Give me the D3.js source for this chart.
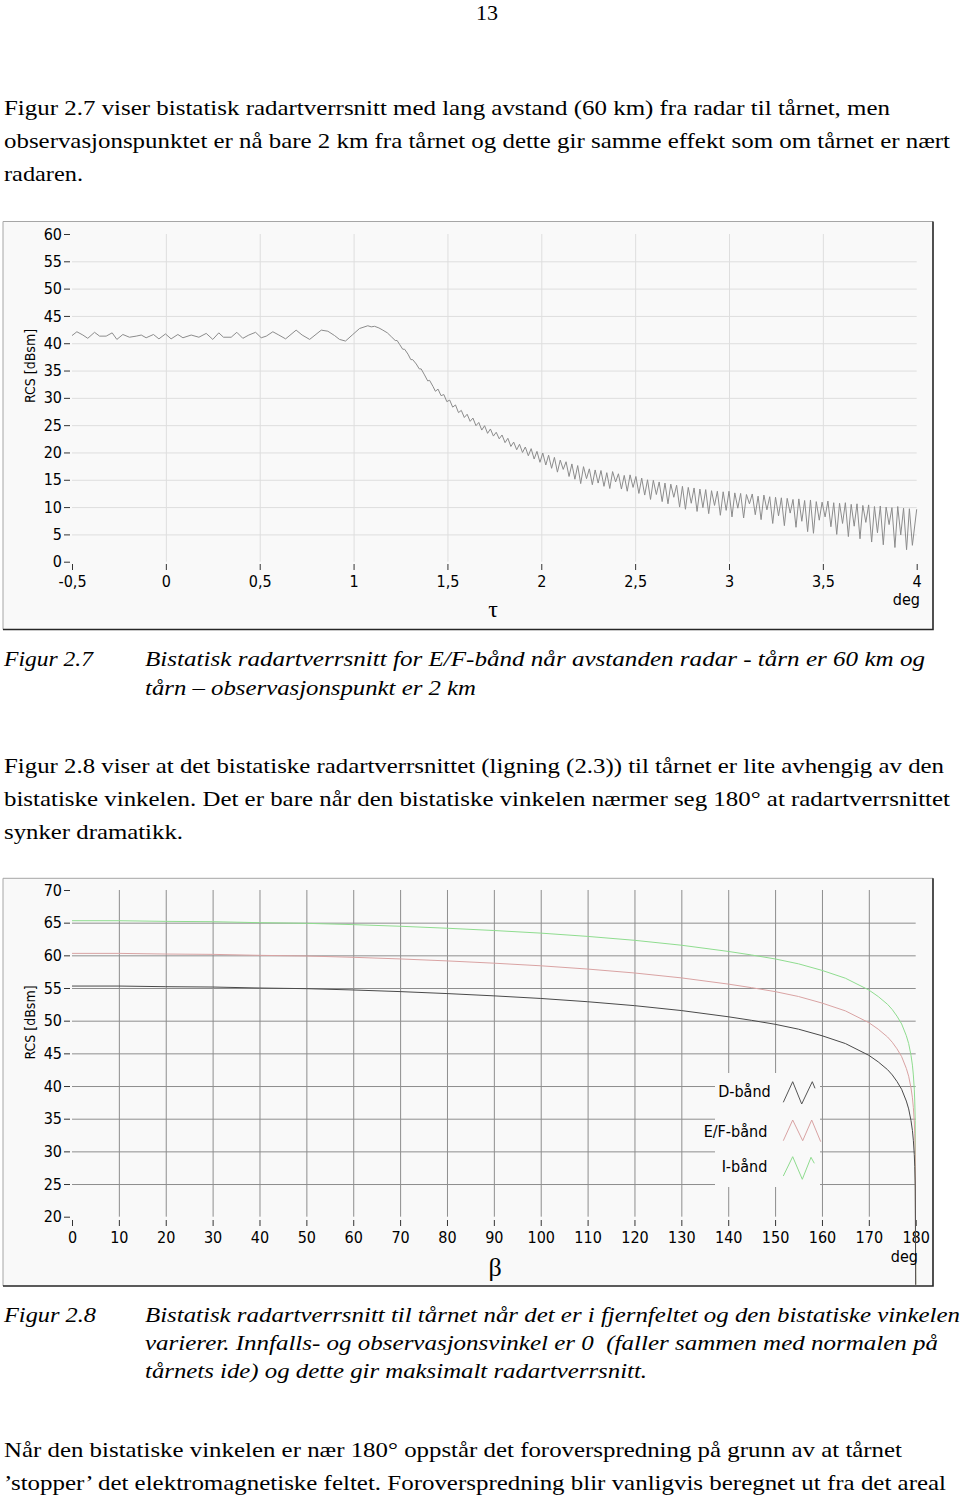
<!DOCTYPE html>
<html><head><meta charset="utf-8">
<script src="https://cdn.jsdelivr.net/npm/d3@7"></script>
<style>
body{margin:0;background:#fff} svg{display:block}
.serif{font-family:"Liberation Serif","Times New Roman",Times,serif}
.sans{font-family:"DejaVu Sans Condensed","DejaVu Sans",sans-serif;font-stretch:condensed}
</style>
</head><body>
<svg id="page" width="960" height="1498"></svg>
<script>
// ---------------- DATA ----------------
// Figure 2.7 : RCS [dBsm] vs tau [deg]
const tauTicks = [-0.5, 0, 0.5, 1, 1.5, 2, 2.5, 3, 3.5, 4];
const tauTickLabels = ["-0,5", "0", "0,5", "1", "1,5", "2", "2,5", "3", "3,5", "4"];
const rcs27Ticks = [0, 5, 10, 15, 20, 25, 30, 35, 40, 45, 50, 55, 60];
const fig27Curve = [
[-0.5,41.4],[-0.474,42.1],[-0.442,41.5],[-0.416,40.9],[-0.38,42.0],[-0.353,41.3],[-0.318,41.3],[-0.286,41.9],[-0.261,40.7],[-0.229,41.6],
[-0.194,41.1],[-0.158,41.3],[-0.131,41.5],[-0.105,41.0],[-0.066,41.6],[-0.037,40.8],[-0.002,41.7],[0.028,40.8],[0.064,41.6],[0.091,41.0],
[0.135,41.5],[0.176,41.1],[0.215,41.8],[0.25,40.7],[0.282,41.9],[0.307,41.1],[0.348,41.1],[0.378,42.0],[0.41,40.9],[0.442,41.5],
[0.478,42.0],[0.508,41.0],[0.535,41.3],[0.57,42.1],[0.602,41.5],[0.638,40.8],[0.694,42.4],[0.726,41.5],[0.766,40.7],[0.828,42.4],
[0.863,42.2],[0.899,41.4],[0.925,40.7],[0.957,40.4],[0.996,41.6],[1.032,42.7],[1.076,43.2],[1.094,43.0],[1.112,43.1],[1.135,42.8],
[1.156,42.4],[1.18,41.9],[1.201,41.2],[1.222,40.5],[1.232,40.5],[1.245,39.8],[1.262,38.9],[1.272,38.9],[1.29,38.0],[1.305,37.0],
[1.315,37.0],[1.334,36.2],[1.35,35.3],[1.36,35.3],[1.378,34.2],[1.395,33.1],[1.405,33.2],[1.423,32.1],[1.436,31.2],
[1.45,31.6],[1.466,30.4],[1.481,30.6],[1.497,29.3],[1.512,29.6],[1.528,28.3],[1.543,28.7],[1.559,27.3],[1.574,27.7],[1.59,26.4],
[1.605,27.0],[1.621,25.7],[1.636,26.3],[1.652,24.9],[1.667,25.5],[1.683,24.1],[1.698,24.9],[1.714,23.5],[1.729,24.3],[1.745,23.0],
[1.76,23.7],[1.776,22.5],[1.791,23.2],[1.807,21.8],[1.822,22.6],[1.838,21.1],[1.853,21.9],[1.869,20.5],[1.884,21.5],[1.9,20.0],
[1.915,21.0],[1.931,19.4],[1.946,20.7],[1.962,18.8],[1.977,20.2],[1.993,18.2],[2.008,19.9],[2.024,17.7],[2.039,19.5],[2.055,17.1],
[2.07,19.1],[2.086,16.4],[2.101,18.6],[2.117,16.9],[2.132,18.3],[2.148,15.6],[2.163,17.9],[2.179,15.1],[2.194,17.6],[2.21,14.3],
[2.225,17.4],[2.241,15.2],[2.256,17.0],[2.272,14.1],[2.287,16.8],[2.303,14.4],[2.318,16.7],[2.334,13.8],[2.349,16.3],[2.365,13.4],
[2.38,16.5],[2.396,14.6],[2.411,16.1],[2.427,13.3],[2.442,15.8],[2.458,12.9],[2.473,15.9],[2.489,13.6],[2.504,15.6],[2.52,12.5],
[2.535,15.3],[2.551,12.2],[2.566,15.0],[2.582,11.4],[2.597,14.9],[2.613,12.3],[2.628,14.6],[2.644,11.0],[2.659,14.4],[2.675,10.6],
[2.69,14.2],[2.706,11.8],[2.721,14.0],[2.737,10.0],[2.752,13.8],[2.768,9.6],[2.783,13.6],[2.799,10.7],[2.814,13.5],[2.83,9.2],
[2.845,13.3],[2.861,9.9],[2.876,13.2],[2.892,8.8],[2.907,13.0],[2.923,10.3],[2.938,12.9],[2.954,8.5],[2.969,12.8],[2.985,9.4],
[3.0,12.9],[3.016,8.2],[3.031,12.6],[3.047,9.8],[3.062,12.5],[3.078,8.0],[3.093,12.3],[3.109,10.6],[3.124,12.4],[3.14,8.6],
[3.155,12.0],[3.171,7.7],[3.186,12.2],[3.202,9.5],[3.217,11.9],[3.233,7.0],[3.248,11.8],[3.264,8.4],[3.279,11.7],[3.295,6.6],
[3.31,11.6],[3.326,8.9],[3.341,11.4],[3.357,6.3],[3.372,11.5],[3.388,7.4],[3.403,11.2],[3.419,5.5],[3.434,11.3],[3.45,5.2],
[3.465,11.0],[3.481,7.6],[3.496,10.9],[3.512,8.2],[3.527,11.1],[3.543,6.4],[3.558,10.8],[3.574,5.0],[3.589,10.7],[3.605,7.0],
[3.62,10.8],[3.636,4.6],[3.651,10.5],[3.667,6.5],[3.682,10.6],[3.698,4.2],[3.713,10.3],[3.729,7.2],[3.744,10.4],[3.76,3.6],
[3.775,10.1],[3.791,5.3],[3.806,10.2],[3.822,3.1],[3.837,10.0],[3.853,6.8],[3.868,9.9],[3.884,2.6],[3.899,10.1],[3.915,4.9],
[3.93,9.8],[3.946,2.2],[3.961,9.7],[3.977,3.0],[4.0,9.6]
];

// Figure 2.8 : RCS [dBsm] vs beta [deg]
const betaTicks = [0, 10, 20, 30, 40, 50, 60, 70, 80, 90, 100, 110, 120, 130, 140, 150, 160, 170, 180];
const rcs28Ticks = [20, 25, 30, 35, 40, 45, 50, 55, 60, 65, 70];
const betaValues = [0,10,20,30,40,50,60,70,80,90,100,110,120,130,140,145,150,155,160,165,170,172,174,175,176,177,178,178.5,179,179.3,179.5,179.7,179.8,179.9,180];
const dBand  = [55.3,55.3,55.2,55.15,55.0,54.9,54.7,54.45,54.15,53.8,53.4,52.9,52.3,51.55,50.6,50.05,49.45,48.7,47.7,46.5,44.7,43.7,42.5,41.7,40.7,39.5,37.7,36.5,34.7,33.2,31.7,29.5,27.7,24.7,9.5];
const efBand = [60.3,60.3,60.2,60.15,60.0,59.9,59.7,59.45,59.15,58.8,58.4,57.9,57.3,56.55,55.6,55.05,54.45,53.7,52.7,51.5,49.7,48.7,47.5,46.7,45.7,44.5,42.7,41.5,39.7,38.2,36.7,34.5,32.7,29.7,9.5];
const iBand  = [65.3,65.3,65.2,65.15,65.0,64.9,64.7,64.45,64.15,63.8,63.4,62.9,62.3,61.55,60.6,60.05,59.45,58.7,57.7,56.5,54.7,53.7,52.5,51.7,50.7,49.5,47.7,46.5,44.7,43.2,41.7,39.5,37.7,34.7,9.5];
const bandNames = ["D-bånd", "E/F-bånd", "I-bånd"];

// Page text
const para1 = [
  "Figur 2.7 viser bistatisk radartverrsnitt med lang avstand (60 km) fra radar til tårnet, men",
  "observasjonspunktet er nå bare 2 km fra tårnet og dette gir samme effekt som om tårnet er nært",
  "radaren."
];
const cap27 = ["Figur 2.7", "Bistatisk radartverrsnitt for E/F-bånd når avstanden radar -  tårn er 60 km og", "tårn – observasjonspunkt er 2 km"];
const para2 = [
  "Figur 2.8 viser at det bistatiske radartverrsnittet (ligning (2.3)) til tårnet er lite avhengig av den",
  "bistatiske vinkelen. Det er bare når den bistatiske vinkelen nærmer seg 180° at radartverrsnittet",
  "synker dramatikk."
];
const cap28 = ["Figur 2.8", "Bistatisk radartverrsnitt til tårnet når det er i fjernfeltet og den bistatiske vinkelen",
  "varierer. Innfalls- og observasjonsvinkel er 0\u00a0 (faller sammen med normalen på",
  "tårnets ide) og dette gir maksimalt radartverrsnitt."];
const para3 = [
  "Når den bistatiske vinkelen er nær 180° oppstår det foroverspredning på grunn av at tårnet",
  "’stopper’ det elektromagnetiske feltet. Foroverspredning blir vanligvis beregnet ut fra det areal"
];

// ---------------- DRAWING ----------------
const svg = d3.select("#page");

function txt(str, x, y, o = {}) {
  const t = svg.append("text").attr("x", x).attr("y", y).text(str)
    .attr("class", o.sans ? "sans" : "serif").style("font-size", (o.size || 22) + "px")
    .attr("fill", "#000").attr("text-anchor", o.anchor || "start");
  if (o.italic) t.style("font-style", "italic");
  if (o.w) t.attr("textLength", o.w).attr("lengthAdjust", "spacingAndGlyphs");
  return t;
}

// body text
txt("13", 487, 20, {anchor: "middle"});
const p1y = [115, 148, 181], p1w = [886, 946, 79];
para1.forEach((s, i) => txt(s, 4, p1y[i], {w: p1w[i]}));
txt(cap27[0], 4, 666, {italic: true, w: 89});
txt(cap27[1], 145, 666, {italic: true, w: 780});
txt(cap27[2], 145, 695, {italic: true, w: 331});
const p2y = [773, 806, 839], p2w = [940, 946, 179];
para2.forEach((s, i) => txt(s, 4, p2y[i], {w: p2w[i]}));
txt(cap28[0], 4, 1322, {italic: true, w: 92});
txt(cap28[1], 145, 1322, {italic: true, w: 815});
txt(cap28[2], 145, 1350, {italic: true, w: 793});
txt(cap28[3], 145, 1378, {italic: true, w: 502});
const p3y = [1457, 1490], p3w = [898, 942];
para3.forEach((s, i) => txt(s, 4, p3y[i], {w: p3w[i]}));

function frame(x0, y0, x1, y1) {
  const g = svg.append("g");
  g.append("rect").attr("x", x0).attr("y", y0).attr("width", x1 - x0).attr("height", y1 - y0).attr("fill", "#f9f9f9");
  g.append("path").attr("d", `M${x0},${y1}V${y0}H${x1}`).attr("stroke", "#a6a6a6").attr("fill", "none");
  g.append("path").attr("d", `M${x0},${y1}H${x1}V${y0}`).attr("stroke", "#262626").attr("stroke-width", 1.6).attr("fill", "none");
}

function styleAxis(g, color) {
  g.select(".domain").remove();
  g.selectAll(".tick line").attr("stroke", color);
  g.selectAll(".tick text").attr("class", "sans").attr("font-family", null).style("font-size", "16px").attr("fill", "#000");
}

function chart(cfg) {
  const {x, y, xTicks, yTicks, xFmt, gridColor, axisY} = cfg;
  const [px0, px1] = x.range(), [py0, py1] = y.range(); // py0 bottom, py1 top
  frame(cfg.frame[0], cfg.frame[1], cfg.frame[2], cfg.frame[3]);
  const gh = svg.append("g").attr("transform", `translate(${px0},0)`)
    .call(d3.axisLeft(y).tickValues(yTicks.slice(1, -1)).tickSize(-(px1 - px0)).tickFormat(""));
  gh.select(".domain").remove(); gh.selectAll(".tick line").attr("stroke", gridColor);
  const gv = svg.append("g").attr("transform", `translate(0,${py0})`)
    .call(d3.axisBottom(x).tickValues(xTicks.slice(1, -1)).tickSize(-(py0 - py1)).tickFormat(""));
  gv.select(".domain").remove(); gv.selectAll(".tick line").attr("stroke", gridColor);
  const ya = svg.append("g").attr("transform", `translate(${px0 - 2},0)`)
    .call(d3.axisLeft(y).tickValues(yTicks).tickSize(6).tickPadding(2).tickFormat(d => d));
  ya.attr("font-family", null);
  styleAxis(ya, "#333");
  const xa = svg.append("g").attr("transform", `translate(0,${axisY})`)
    .call(d3.axisBottom(x).tickValues(xTicks).tickSize(6).tickPadding(6).tickFormat(xFmt));
  xa.attr("font-family", null);
  styleAxis(xa, "#333");
}

// ---- Figure 2.7 ----
const x27 = d3.scaleLinear().domain([-0.5, 4]).range([72, 916.7]);
const y27 = d3.scaleLinear().domain([0, 60]).range([561.7, 234]);
chart({x: x27, y: y27, xTicks: tauTicks, yTicks: rcs27Ticks, xFmt: (d, i) => tauTickLabels[i],
  gridColor: "#dedede", axisY: 564, frame: [3, 221.5, 933, 629.5]});
svg.append("path").datum(fig27Curve)
  .attr("d", d3.line().x(d => x27(d[0])).y(d => y27(d[1])))
  .attr("fill", "none").attr("stroke", "#8c8c8c").attr("stroke-width", 1);
txt("τ", 493, 617, {anchor: "middle", size: 24});
txt("deg", 920, 605, {anchor: "end", sans: true, size: 16});
txt("RCS [dBsm]", 0, 0, {anchor: "middle", sans: true, size: 14})
  .attr("transform", "translate(35,366) rotate(-90)");

// ---- Figure 2.8 ----
const x28 = d3.scaleLinear().domain([0, 180]).range([72, 915.7]);
const y28 = d3.scaleLinear().domain([20, 70]).range([1216.7, 890]);
chart({x: x28, y: y28, xTicks: betaTicks, yTicks: rcs28Ticks, xFmt: d => d,
  gridColor: "#8e8e8e", axisY: 1220, frame: [3, 878.3, 933, 1286]});

svg.append("rect").attr("x", 715).attr("y", 1073).attr("width", 105).attr("height", 114).attr("fill", "#f9f9f9");

svg.append("defs").append("clipPath").attr("id", "clip28")
  .append("rect").attr("x", 3).attr("y", 878.3).attr("width", 929).attr("height", 406.5);
const bands = [
  {name: bandNames[2], vals: iBand, color: "#8fdc8f"},
  {name: bandNames[1], vals: efBand, color: "#d9a3a3"},
  {name: bandNames[0], vals: dBand, color: "#4a4a4a"}
];
const line28 = d3.line().x((d, i) => x28(betaValues[i])).y(d => y28(d));
bands.forEach(b => {
  svg.append("path").datum(b.vals).attr("d", line28).attr("clip-path", "url(#clip28)")
    .attr("fill", "none").attr("stroke", b.color).attr("stroke-width", 1);
});

const legendItems = [
  {name: bandNames[0], color: "#555", tx: 770.7, ty: 1096.7,
   pts: [[783.3,1102.3],[792.7,1081.7],[801.7,1104],[812.3,1081.7],[815,1088.3]]},
  {name: bandNames[1], color: "#d9a3a3", tx: 767.3, ty: 1137,
   pts: [[783.3,1140.7],[792.7,1120],[802.7,1140.7],[811.7,1120],[820.7,1141.7]]},
  {name: bandNames[2], color: "#8fdc8f", tx: 767.3, ty: 1171.7,
   pts: [[783.3,1176],[792.7,1156.7],[802.3,1179.3],[811,1157.3],[814.3,1163.3]]}
];
legendItems.forEach(l => {
  txt(l.name, l.tx, l.ty, {anchor: "end", sans: true, size: 16});
  svg.append("path").attr("d", d3.line()(l.pts)).attr("fill", "none").attr("stroke", l.color).attr("stroke-width", 1);
});

txt("β", 495, 1276, {anchor: "middle", size: 26});
txt("deg", 918, 1262, {anchor: "end", sans: true, size: 16});
txt("RCS [dBsm]", 0, 0, {anchor: "middle", sans: true, size: 14})
  .attr("transform", "translate(35,1022.5) rotate(-90)");
</script>
</body></html>
